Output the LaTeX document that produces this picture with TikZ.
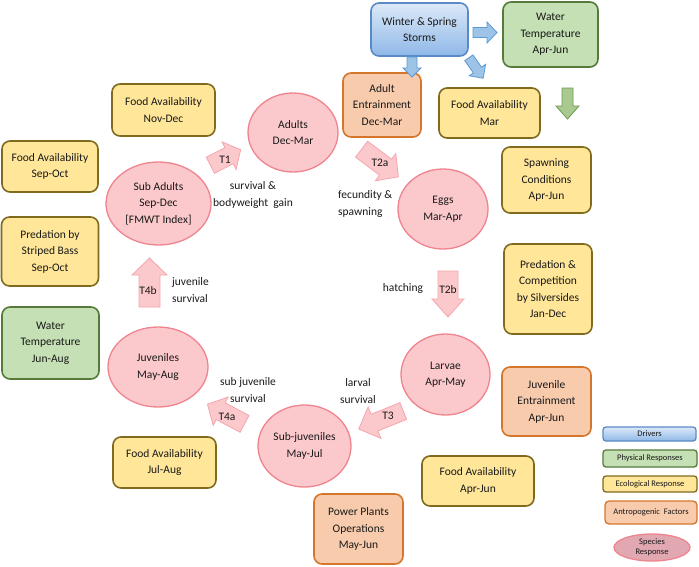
\documentclass[tikz,border=0pt]{standalone}
\usepackage{fontspec}
\setmainfont{Carlito}
\usetikzlibrary{shapes.geometric}
\definecolor{blueB}{HTML}{5A8AC6}
\definecolor{blueT}{HTML}{DCE9F8}
\definecolor{blueM}{HTML}{8FB8E8}
\definecolor{greenF}{HTML}{C5E0B4}
\definecolor{greenB}{HTML}{557A3A}
\definecolor{yelF}{HTML}{FFE699}
\definecolor{yelB}{HTML}{7F6A1E}
\definecolor{oraF}{HTML}{F8CBAD}
\definecolor{oraB}{HTML}{D4772C}
\definecolor{pinkF}{HTML}{FBC8CC}
\definecolor{pinkB}{HTML}{F0848E}
\definecolor{pinkA}{HTML}{F3A6AD}
\definecolor{specF}{HTML}{E2A8B1}
\definecolor{arrBlueF}{HTML}{9DC3E6}
\definecolor{arrBlueB}{HTML}{5B9BD5}
\definecolor{arrGreenF}{HTML}{A9C98F}
\definecolor{arrGreenB}{HTML}{6E9A54}
\newcommand{\blockarr}[8]{%
  % #1 style, #2 x, #3 y, #4 angle, #5 length, #6 body width, #7 head width, #8 head length
  \begin{scope}[shift={(#2,#3)},rotate=#4]
    \draw[#1] (-#5/2,-#6/2) -- (#5/2-#8,-#6/2) -- (#5/2-#8,-#7/2) -- (#5/2,0)
      -- (#5/2-#8,#7/2) -- (#5/2-#8,#6/2) -- (-#5/2,#6/2) -- cycle;
  \end{scope}}
\begin{document}
\begin{tikzpicture}[x=1pt,y=-1pt,
  every node/.style={font=\fontsize{11.5}{16.5}\selectfont, align=center, inner sep=0pt, text=black!90},
  box/.style={draw, rounded corners=8pt, line width=1.6pt},
  driver/.style={box, draw=blueB, top color=blueT, bottom color=blueM},
  phys/.style={box, draw=greenB, fill=greenF},
  ecol/.style={box, draw=yelB, fill=yelF},
  anthro/.style={box, draw=oraB, fill=oraF},
  species/.style={ellipse, draw=pinkB, fill=pinkF, line width=1.3pt},
  parr/.style={draw=pinkA, fill=pinkF, line width=0.8pt, line join=miter},
  barr/.style={draw=arrBlueB, fill=arrBlueF, line width=0.8pt},
  garr/.style={draw=arrGreenB, fill=arrGreenF, line width=0.8pt},
  lbl/.style={align=center},
  legend/.style={font=\fontsize{8.5}{10}\selectfont}
]
\useasboundingbox (0,0) rectangle (699,566);

% Drivers and factor boxes
\node[driver, minimum width=97, minimum height=53] (storms) at (419.5,29.5) {Winter \& Spring\\Storms};
\node[phys, minimum width=95, minimum height=65] (wtAJ) at (550.5,34.5) {Water\\Temperature\\Apr-Jun};
\node[anthro, minimum width=78, minimum height=64] (adEnt) at (382,105) {Adult\\Entrainment\\Dec-Mar};
\node[ecol, minimum width=101, minimum height=50] (faMar) at (489.5,113) {Food Availability\\Mar};
\node[ecol, minimum width=103, minimum height=52] (faND) at (163.5,110) {Food Availability\\Nov-Dec};
\node[ecol, minimum width=96, minimum height=51] (faSO) at (50,166.5) {Food Availability\\Sep-Oct};
\node[ecol, minimum width=97, minimum height=69] (predSB) at (50,251.5) {Predation by\\Striped Bass\\Sep-Oct};
\node[phys, minimum width=97, minimum height=72] (wtJA) at (50.5,343) {Water\\Temperature\\Jun-Aug};
\node[ecol, minimum width=103, minimum height=51] (faJA) at (164.5,462.5) {Food Availability\\Jul-Aug};
\node[anthro, minimum width=89, minimum height=70] (ppo) at (358.5,529) {Power Plants\\Operations\\May-Jun};
\node[ecol, minimum width=112, minimum height=50] (faAJ) at (478,481) {Food Availability\\Apr-Jun};
\node[anthro, minimum width=89, minimum height=69] (juvEnt) at (546.5,401.5) {Juvenile\\Entrainment\\Apr-Jun};
\node[ecol, minimum width=88, minimum height=90] (predSil) at (548,289) {Predation \&\\Competition\\by Silversides\\Jan-Dec};
\node[ecol, minimum width=89, minimum height=66] (spawn) at (546.5,180) {Spawning\\Conditions\\Apr-Jun};

% Life stages
\node[species, minimum width=90, minimum height=79] (adults) at (293,132.5) {Adults\\Dec-Mar};
\node[species, minimum width=105, minimum height=83] (subad) at (158.5,203.5) {Sub Adults\\Sep-Dec\\{[FMWT Index]}};
\node[species, minimum width=90, minimum height=80] (eggs) at (443,209) {Eggs\\Mar-Apr};
\node[species, minimum width=89, minimum height=81] (larvae) at (445.5,374.5) {Larvae\\Apr-May};
\node[species, minimum width=93, minimum height=82] (subjuv) at (304.5,446) {Sub-juveniles\\May-Jul};
\node[species, minimum width=100, minimum height=80] (juv) at (158,367) {Juveniles\\May-Aug};

% Driver arrows
\blockarr{barr}{485}{32.5}{0}{24}{10}{21}{10}
\blockarr{barr}{412}{67}{-90}{20}{10}{18}{9}
\blockarr{barr}{476}{68}{-55}{25}{10}{20}{10}
\blockarr{garr}{567.5}{103.5}{-90}{31}{11}{23}{13}

% Transition arrows
\blockarr{parr}{225.5}{157.5}{27}{34}{18}{31}{13}
\blockarr{parr}{380}{163}{-37}{46}{20}{34}{16}
\blockarr{parr}{448}{294}{-90}{46}{20}{32}{18}
\blockarr{parr}{381}{420}{202}{48}{18}{34}{17}
\blockarr{parr}{226}{414}{152}{42}{19}{32}{15}
\blockarr{parr}{149.5}{282.5}{90}{49}{21}{35}{17}

\node (t1) at (225,160) {T1};
\node (t2a) at (380,163) {T2a};
\node (t2b) at (448,290) {T2b};
\node (t3) at (388,416) {T3};
\node (t4a) at (227,417) {T4a};
\node (t4b) at (148,291) {T4b};

% Transition labels
\node[lbl] (lsurv) at (253,195) {survival \&\\bodyweight\ \ gain};
\node[align=left, anchor=west] (lfec) at (338,204) {fecundity \&\\spawning};
\node (lhatch) at (403,288) {hatching};
\node[align=left, anchor=west] (ljuv) at (172,290) {juvenile\\survival};
\node[lbl] (lsubjuv) at (248,390) {sub juvenile\\survival};
\node[lbl] (llarv) at (358,391) {larval\\survival};

% Legend
\node[legend, box, rounded corners=3pt, line width=1.3pt, draw=blueB, top color=blueT, bottom color=blueM, minimum width=93, minimum height=14] (legD) at (649.5,434) {Drivers};
\node[legend, phys, rounded corners=3pt, line width=1.3pt, minimum width=94, minimum height=17] (legP) at (650,458.5) {Physical Responses};
\node[legend, ecol, rounded corners=3pt, line width=1.3pt, minimum width=94, minimum height=16] (legE) at (650,484) {Ecological Response};
\node[legend, anthro, rounded corners=4pt, line width=1.3pt, minimum width=92, minimum height=23] (legA) at (651,512.5) {Antropogenic\ \ Factors};
\node[legend, ellipse, draw=pinkB, fill=specF, line width=1.3pt, minimum width=76, minimum height=27] (legS) at (652,547.5) {Species\\Response};
\end{tikzpicture}
\end{document}
